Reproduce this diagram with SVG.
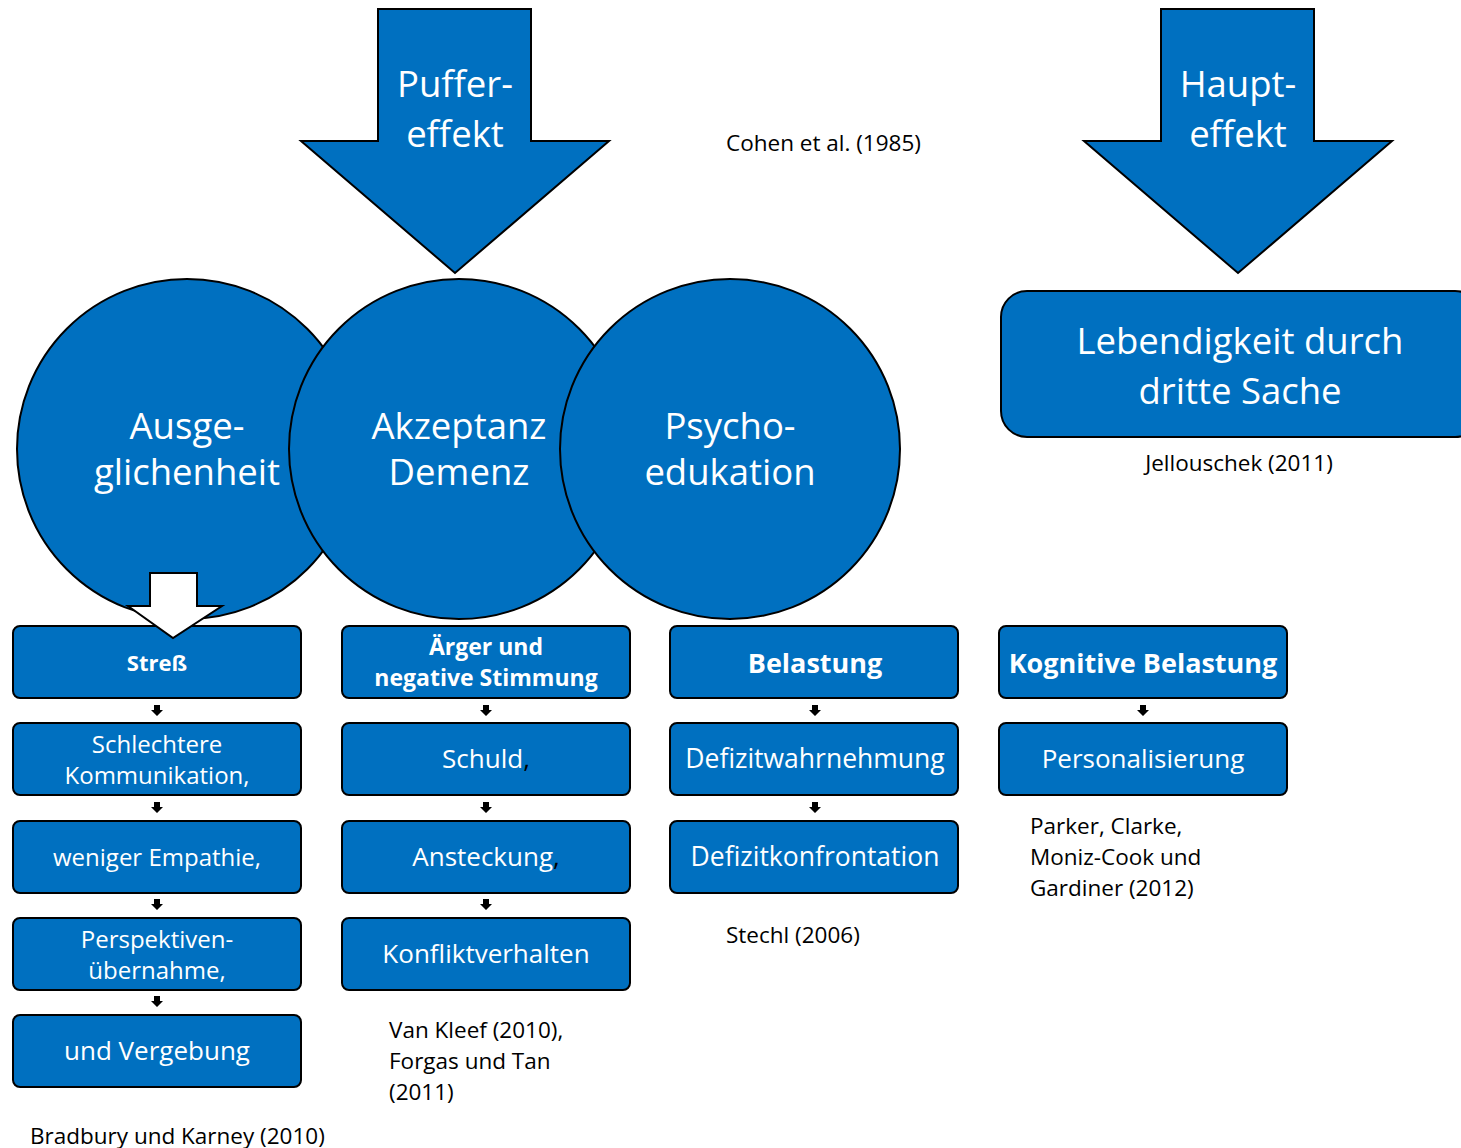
<svg xmlns="http://www.w3.org/2000/svg" width="1461" height="1148" viewBox="0 0 1461 1148">
<style>
.shape{fill:#0070C0;stroke:#000;stroke-width:2}
.box{fill:#0070C0;stroke:#000;stroke-width:2}
.t{font-family:"Open Sans","Liberation Sans",sans-serif;fill:#fff;text-anchor:middle;dominant-baseline:central}
.b{font-weight:bold}
.c{font-family:"Open Sans","Liberation Sans",sans-serif;fill:#000;font-size:22.5px;dominant-baseline:central}
.big{font-size:36.5px}
.m{font-size:24px}
.k{fill:#000}
</style>
<defs>
<path id="sa" d="M-3,0 H3 V5 H6 L0,11 L-6,5 H-3 Z" fill="#000"/>
</defs>
<g id="puffer">
<path class="shape" d="M378,9 H531 V141 H609 L455,273 L301,141 H378 Z"/>
<text class="t big" x="455" y="83">Puffer-</text>
<text class="t big" x="455" y="133">effekt</text>
</g>
<g id="haupt">
<path class="shape" d="M1161,9 H1314 V141 H1392 L1238,273 L1084,141 H1161 Z"/>
<text class="t big" x="1238" y="83">Haupt-</text>
<text class="t big" x="1238" y="133">effekt</text>
</g>
<g id="ausgeglichenheit">
<circle class="shape" cx="187" cy="449" r="170"/>
<text class="t big" x="187" y="425">Ausge-</text>
<text class="t big" x="187" y="471">glichenheit</text>
</g>
<g id="akzeptanz">
<circle class="shape" cx="459" cy="449" r="170"/>
<text class="t big" x="459" y="425">Akzeptanz</text>
<text class="t big" x="459" y="471">Demenz</text>
</g>
<g id="psycho">
<circle class="shape" cx="730" cy="449" r="170"/>
<text class="t big" x="730" y="425">Psycho-</text>
<text class="t big" x="730" y="471">edukation</text>
</g>
<g id="lebendigkeit">
<rect class="box" x="1001" y="291" width="480" height="146" rx="26"/>
<text class="t big" x="1240" y="340">Lebendigkeit durch</text>
<text class="t big" x="1240" y="390">dritte Sache</text>
</g>
<text class="c" x="726" y="142">Cohen et al. (1985)</text>
<text class="c" x="1239" y="462" text-anchor="middle">Jellouschek (2011)</text>

<g id="stress">
<rect class="box" x="13" y="626" width="288" height="72" rx="7"/>
<text class="t b" x="157" y="662" font-size="22">Streß</text>
</g>
<g id="white-arrow">
<path d="M150,573 H197 V606 H222 L173,638 L128,606 H150 Z" fill="#fff" stroke="#000" stroke-width="2"/>
</g>
<g id="schlechtere">
<rect class="box" x="13" y="723" width="288" height="72" rx="7"/>
<text class="t m" x="157" y="743">Schlechtere</text>
<text class="t m" x="157" y="774">Kommunikation,</text>
</g>
<g id="empathie">
<rect class="box" x="13" y="821" width="288" height="72" rx="7"/>
<text class="t m" x="157" y="856">weniger Empathie,</text>
</g>
<g id="perspektiven">
<rect class="box" x="13" y="918" width="288" height="72" rx="7"/>
<text class="t m" x="157" y="938">Perspektiven-</text>
<text class="t m" x="157" y="969">übernahme,</text>
</g>
<g id="vergebung">
<rect class="box" x="13" y="1015" width="288" height="72" rx="7"/>
<text class="t" x="157" y="1050" font-size="26">und Vergebung</text>
</g>
<text class="c" x="30" y="1135">Bradbury und Karney (2010)</text>

<g id="aerger">
<rect class="box" x="342" y="626" width="288" height="72" rx="7"/>
<text class="t b" x="486" y="646" font-size="23">Ärger und</text>
<text class="t b" x="486" y="677" font-size="23">negative Stimmung</text>
</g>
<g id="schuld">
<rect class="box" x="342" y="723" width="288" height="72" rx="7"/>
<text class="t" x="486" y="758" font-size="26">Schuld<tspan class="k">,</tspan></text>
</g>
<g id="ansteckung">
<rect class="box" x="342" y="821" width="288" height="72" rx="7"/>
<text class="t" x="486" y="856" font-size="26">Ansteckung<tspan class="k">,</tspan></text>
</g>
<g id="konflikt">
<rect class="box" x="342" y="918" width="288" height="72" rx="7"/>
<text class="t" x="486" y="953" font-size="26">Konfliktverhalten</text>
</g>
<text class="c" x="389" y="1029">Van Kleef (2010),</text>
<text class="c" x="389" y="1060">Forgas und Tan</text>
<text class="c" x="389" y="1091">(2011)</text>

<g id="belastung">
<rect class="box" x="670" y="626" width="288" height="72" rx="7"/>
<text class="t b" x="815" y="662" font-size="27">Belastung</text>
</g>
<g id="defizitwahr">
<rect class="box" x="670" y="723" width="288" height="72" rx="7"/>
<text class="t" x="815" y="758" font-size="26.5">Defizitwahrnehmung</text>
</g>
<g id="defizitkonf">
<rect class="box" x="670" y="821" width="288" height="72" rx="7"/>
<text class="t" x="815" y="856" font-size="26.5">Defizitkonfrontation</text>
</g>
<text class="c" x="726" y="934">Stechl (2006)</text>

<g id="kognitive">
<rect class="box" x="999" y="626" width="288" height="72" rx="7"/>
<text class="t b" x="1143" y="662" font-size="27">Kognitive Belastung</text>
</g>
<g id="personalisierung">
<rect class="box" x="999" y="723" width="288" height="72" rx="7"/>
<text class="t" x="1143" y="758" font-size="26">Personalisierung</text>
</g>
<text class="c" x="1030" y="825">Parker, Clarke,</text>
<text class="c" x="1030" y="856">Moniz-Cook und</text>
<text class="c" x="1030" y="887">Gardiner (2012)</text>

<g id="connectors">
<use href="#sa" x="157" y="705"/>
<use href="#sa" x="157" y="802"/>
<use href="#sa" x="157" y="899"/>
<use href="#sa" x="157" y="996"/>
<use href="#sa" x="486" y="705"/>
<use href="#sa" x="486" y="802"/>
<use href="#sa" x="486" y="899"/>
<use href="#sa" x="815" y="705"/>
<use href="#sa" x="815" y="802"/>
<use href="#sa" x="1143" y="705"/>
</g>
</svg>
